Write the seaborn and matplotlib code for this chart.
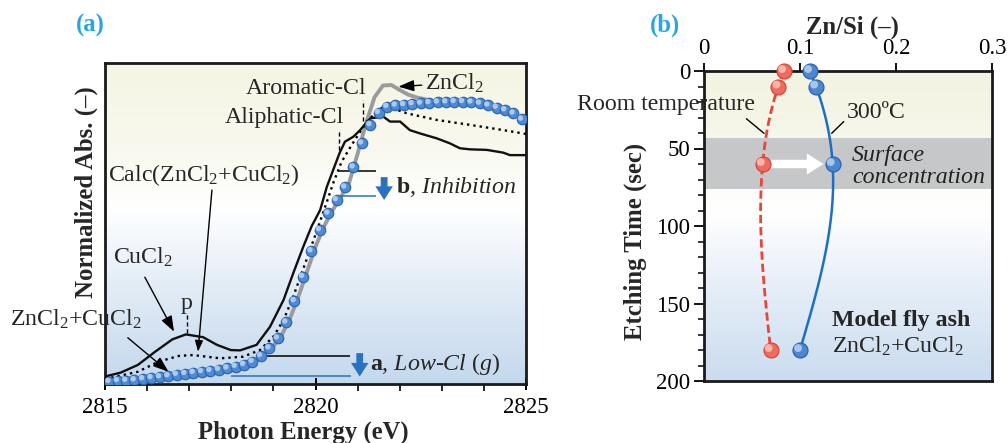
import numpy as np
import pandas as pd
import matplotlib
matplotlib.use("Agg")
import matplotlib.pyplot as plt
from matplotlib import transforms
from matplotlib.colors import LinearSegmentedColormap
from matplotlib.ticker import MultipleLocator
import seaborn as sns

# ---------------- data: panel (a) ----------------
sample_energy = [2815.1, 2815.3, 2815.5, 2815.7, 2815.9, 2816.1, 2816.3, 2816.5, 2816.7, 2816.9,
                 2817.1, 2817.3, 2817.5, 2817.7, 2817.9, 2818.1, 2818.3, 2818.5, 2818.7, 2818.9,
                 2819.1, 2819.3, 2819.5, 2819.7, 2819.9, 2820.1, 2820.3, 2820.5, 2820.7, 2820.9,
                 2821.1, 2821.3, 2821.5, 2821.7, 2821.9, 2822.1, 2822.3, 2822.5, 2822.7, 2822.9,
                 2823.1, 2823.3, 2823.5, 2823.7, 2823.9, 2824.1, 2824.3, 2824.5, 2824.7, 2824.9]
sample_abs = [0.001, 0.004, 0.005, 0.007, 0.011, 0.015, 0.018, 0.022, 0.027, 0.030,
              0.034, 0.037, 0.041, 0.045, 0.050, 0.056, 0.063, 0.074, 0.095, 0.123,
              0.159, 0.217, 0.295, 0.383, 0.476, 0.553, 0.613, 0.662, 0.708, 0.781,
              0.868, 0.935, 0.979, 1.001, 1.006, 1.008, 1.011, 1.013, 1.015, 1.017,
              1.018, 1.019, 1.019, 1.017, 1.013, 1.006, 0.998, 0.989, 0.977, 0.955]

cucl2_energy = [2815.0, 2815.37, 2815.78, 2816.19, 2816.6, 2816.92, 2817.33, 2817.66, 2817.99,
                2818.21, 2818.6, 2818.92, 2819.24, 2819.47, 2819.71, 2819.91, 2820.11, 2820.27,
                2820.42, 2820.57, 2820.7, 2820.9, 2821.06, 2821.23, 2821.31, 2821.61, 2821.77,
                2822.01, 2822.24, 2822.48, 2822.88, 2823.19, 2823.43, 2823.67, 2824.07, 2824.46,
                2824.62, 2825.0]
cucl2_abs = [0.020, 0.034, 0.062, 0.110, 0.155, 0.173, 0.163, 0.135, 0.116,
             0.115, 0.135, 0.201, 0.298, 0.395, 0.492, 0.567, 0.625, 0.710,
             0.771, 0.832, 0.874, 0.892, 0.916, 0.947, 0.959, 0.965, 0.947,
             0.947, 0.916, 0.904, 0.886, 0.868, 0.850, 0.846, 0.844, 0.834,
             0.825, 0.825]

calc_energy = [2815.0, 2815.78, 2816.27, 2816.76, 2817.09, 2817.74, 2818.28, 2818.68, 2819.0,
               2819.24, 2819.47, 2819.67, 2819.87, 2820.05, 2820.23, 2820.42, 2820.62, 2820.86,
               2821.06, 2821.25, 2821.6, 2821.85, 2822.17, 2822.88, 2823.67, 2824.46, 2825.0]
calc_abs = [0.011, 0.037, 0.074, 0.095, 0.098, 0.086, 0.092, 0.116, 0.165,
            0.225, 0.310, 0.395, 0.480, 0.558, 0.637, 0.723, 0.801, 0.862,
            0.910, 0.953, 1.000, 0.994, 0.977, 0.953, 0.935, 0.916, 0.902]

zncl2_energy = [2815.0, 2815.5, 2816.0, 2816.5, 2817.0, 2817.5, 2818.0, 2818.3, 2818.6, 2818.8,
                2819.0, 2819.2, 2819.4, 2819.6, 2819.8, 2820.0, 2820.2, 2820.4, 2820.6, 2820.8,
                2821.0, 2821.2, 2821.4, 2821.6, 2821.8, 2822.0, 2822.2, 2822.4, 2822.7]
zncl2_abs = [-0.005, -0.002, 0.004, 0.011, 0.020, 0.029, 0.040, 0.055, 0.078, 0.101,
             0.130, 0.171, 0.233, 0.313, 0.402, 0.492, 0.565, 0.623, 0.672, 0.725,
             0.830, 0.940, 1.035, 1.078, 1.080, 1.062, 1.045, 1.035, 1.025]

# ---------------- data: panel (b) ----------------
etch_time = [0, 10, 60, 180]
znsi_room = [0.0833, 0.0774, 0.0611, 0.0694]
znsi_300 = [0.1104, 0.1167, 0.1340, 0.1000]
x_ticks_b = [0, 0.1, 0.2, 0.3]
x_ticklabels_b = ["0", "0.1", "0.2", "0.3"]
y_ticks_b = [0, 50, 100, 150, 200]

# ---------------- style ----------------
sns.set_theme(style="ticks")
plt.rcParams["font.family"] = ["Liberation Serif", "DejaVu Serif"]
plt.rcParams["mathtext.fontset"] = "custom"
plt.rcParams["mathtext.rm"] = "Liberation Serif"
plt.rcParams["mathtext.it"] = "Liberation Serif:italic"
plt.rcParams["mathtext.bf"] = "Liberation Serif:bold"
FS = 17.2      # annotation text
TFS = 16.5     # tick labels
LFS = 17.8     # axis labels

fig = plt.figure(figsize=(10.08, 4.43), dpi=100)
ax_a = fig.add_axes([105 / 1008, 1 - 384 / 443, 421 / 1008, 321 / 443])
ax_b = fig.add_axes([704 / 1008, 1 - 381 / 443, 288 / 1008, 310 / 443])


def gradient(ax, stops):
    cmap = LinearSegmentedColormap.from_list("g", stops)
    grad = np.linspace(0, 1, 256).reshape(-1, 1)
    ax.imshow(grad, cmap=cmap, aspect="auto", extent=[0, 1, 0, 1],
              transform=ax.transAxes, zorder=0, interpolation="bicubic")


def spheres(ax, x, y, s, edge, face, hi, clip=True):
    sns.scatterplot(x=x, y=y, ax=ax, s=s, color=face, edgecolor=edge,
                    linewidth=0.9, zorder=6, legend=False, clip_on=clip)
    r = np.sqrt(s)
    off = transforms.offset_copy(ax.transData, fig=ax.figure, x=-0.13 * r, y=0.13 * r, units="points")
    sns.scatterplot(x=x, y=y, ax=ax, s=s * 0.28, color=hi, edgecolor="none",
                    linewidth=0, zorder=7, transform=off, legend=False, clip_on=clip)


def natural_cubic(t, v, tt):
    t = np.asarray(t, float)
    v = np.asarray(v, float)
    n = len(t)
    h = np.diff(t)
    A = np.zeros((n, n))
    r = np.zeros(n)
    A[0, 0] = A[-1, -1] = 1
    for i in range(1, n - 1):
        A[i, i - 1] = h[i - 1]
        A[i, i] = 2 * (h[i - 1] + h[i])
        A[i, i + 1] = h[i]
        r[i] = 3 * ((v[i + 1] - v[i]) / h[i] - (v[i] - v[i - 1]) / h[i - 1])
    c = np.linalg.solve(A, r)
    b = (v[1:] - v[:-1]) / h - h * (2 * c[:-1] + c[1:]) / 3
    d = (c[1:] - c[:-1]) / (3 * h)
    idx = np.clip(np.searchsorted(t, tt, side="right") - 1, 0, n - 2)
    dt = tt - t[idx]
    return v[idx] + b[idx] * dt + c[idx] * dt ** 2 + d[idx] * dt ** 3


# ================= panel (a) =================
ax = ax_a
gradient(ax, [(0.0, "#f5f5e3"), (0.25, "#f8f8ee"), (0.45, "#ffffff"), (0.7, "#e2ecf6"), (1.0, "#c4d8ed")])

sns.lineplot(x=zncl2_energy, y=zncl2_abs, ax=ax, color="#9b9b9b", lw=2.8, sort=False, estimator=None, zorder=3)
sns.lineplot(x=calc_energy, y=calc_abs, ax=ax, color="black", lw=1.7, sort=False, estimator=None,
             zorder=4, linestyle=(0, (1, 1.7)))
sns.lineplot(x=cucl2_energy, y=cucl2_abs, ax=ax, color="#111111", lw=1.7, sort=False, estimator=None, zorder=4)
spheres(ax, sample_energy, sample_abs, 56, "#2c67b0", "#4f8ad3", "#a9c9ef")

ax.set_xlim(2815, 2825)
ax.set_ylim(-0.0073, 1.16)
ax.set_yticks([])
ax.set_xticks([2815, 2820, 2825])
ax.xaxis.set_minor_locator(MultipleLocator(1))
ax.tick_params(axis="x", which="major", direction="inout", length=9, width=1.4, labelsize=TFS, pad=5, colors="black")
ax.tick_params(axis="x", which="minor", direction="out", length=5, width=1.2, colors="black")
ax.set_xlabel("Photon Energy (eV)", fontsize=LFS, fontweight="bold", va="center")
ax.xaxis.set_label_coords(0.47, -0.15)
ax.set_ylabel("Normalized Abs. (–)", fontsize=LFS, fontweight="bold", va="center")
ax.yaxis.set_label_coords(-0.044, 0.598)
for sp in ax.spines.values():
    sp.set_color("#1a1a1a")
    sp.set_linewidth(2)

dash_kw = dict(colors="black", linestyles=(0, (3, 2)), lw=1.0, zorder=5)
ax.text(2821.22, 1.069, "Aromatic-Cl", fontsize=FS, ha="right", va="center")
ax.vlines(2821.12, 0.949, 1.025, **dash_kw)
ax.text(2820.68, 0.96, "Aliphatic-Cl", fontsize=FS, ha="right", va="center")
ax.vlines(2820.56, 0.844, 0.916, **dash_kw)
ax.annotate("ZnCl$_2$", xy=(2821.97, 1.074), xytext=(2822.6, 1.087), fontsize=FS, ha="left", va="center",
            arrowprops=dict(arrowstyle="-|>,head_length=0.55,head_width=0.2", color="black", lw=1.0,
                            shrinkA=0, shrinkB=0))
ax.text(2815.08, 0.753, "Calc(ZnCl$_2$+CuCl$_2$)", fontsize=FS, ha="left", va="center")
ax.annotate("", xy=(2817.21, 0.11), xytext=(2817.54, 0.698),
            arrowprops=dict(arrowstyle="-|>,head_length=0.55,head_width=0.2", color="black", lw=1.0,
                            shrinkA=0, shrinkB=0))
ax.hlines(0.767, 2820.54, 2821.44, colors="black", lw=1.1, zorder=5)
ax.hlines(0.676, 2820.6, 2821.44, colors="#2a72c0", lw=1.1, zorder=5)
ax.annotate("", xy=(2821.63, 0.662), xytext=(2821.63, 0.745),
            arrowprops=dict(arrowstyle="simple,head_length=0.7,head_width=0.9,tail_width=0.35",
                            fc="#2a72c0", ec="none", mutation_scale=14, shrinkA=0, shrinkB=0))
ax.text(2821.91, 0.71, r"$\mathbf{b}$, $\mathit{Inhibition}$", fontsize=FS, ha="left", va="center")

ax.hlines(0.0945, 2818.85, 2820.81, colors="black", lw=1.1, zorder=5)
ax.hlines(0.023, 2818.0, 2820.85, colors="#2a72c0", lw=1.1, zorder=2)
ax.annotate("", xy=(2821.05, 0.02), xytext=(2821.05, 0.105),
            arrowprops=dict(arrowstyle="simple,head_length=0.7,head_width=0.9,tail_width=0.35",
                            fc="#2a72c0", ec="none", mutation_scale=14, shrinkA=0, shrinkB=0))
ax.text(2821.3, 0.064, r"$\mathbf{a}$, $\mathit{Low}$-$\mathit{Cl}$ ($\mathit{g}$)", fontsize=FS, ha="left", va="center")

ax.annotate("CuCl$_2$", xy=(2816.64, 0.183), xytext=(2815.2, 0.453), fontsize=FS, ha="left", va="center",
            arrowprops=dict(arrowstyle="-|>,head_length=0.55,head_width=0.2", color="black", lw=1.0,
                            shrinkA=4, shrinkB=0, relpos=(0.45, 0.0)))
ax.text(2816.94, 0.286, "p", fontsize=FS, ha="center", va="center")
ax.vlines(2816.95, 0.177, 0.25, **dash_kw)
ax.annotate("ZnCl$_2$+CuCl$_2$", xy=(2816.51, 0.037), xytext=(2812.75, 0.228), fontsize=FS, ha="left",
            va="center", annotation_clip=False,
            arrowprops=dict(arrowstyle="-|>,head_length=0.55,head_width=0.2", color="black", lw=1.0,
                            shrinkA=4, shrinkB=0, relpos=(0.83, 0.0)))

fig.text(90 / 1008, 1 - 25 / 443, "(a)", fontsize=LFS, fontweight="bold", color="#27a6df",
         ha="center", va="center")

# ================= panel (b) =================
ax = ax_b
gradient(ax, [(0.0, "#f3f3e1"), (0.2, "#f6f6ea"), (0.32, "#fbfbf6"), (0.45, "#ffffff"),
              (0.7, "#e6eef7"), (1.0, "#cadcef")])
ax.axhspan(43, 76, color="#c6c7c9", zorder=1, lw=0)

tt = np.linspace(0, 180, 200)
room_curve = pd.DataFrame({"t": tt, "v": natural_cubic(etch_time, znsi_room, tt)})
hot_curve = pd.DataFrame({"t": tt, "v": natural_cubic(etch_time, znsi_300, tt)})
sns.lineplot(data=room_curve, x="v", y="t", ax=ax, sort=False, estimator=None, color="#e5473c",
             lw=2.0, linestyle=(0, (3, 1.4)), zorder=4)
sns.lineplot(data=hot_curve, x="v", y="t", ax=ax, sort=False, estimator=None, color="#1f6fc0",
             lw=1.8, zorder=4)
spheres(ax, znsi_room, etch_time, 115, "#d5463b", "#ee6b5f", "#f9b5ac", clip=False)
spheres(ax, znsi_300, etch_time, 115, "#2763ad", "#4d86cf", "#a7c6ee", clip=False)

ax.annotate("", xy=(0.1245, 60), xytext=(0.069, 60),
            arrowprops=dict(arrowstyle="simple,head_length=0.75,head_width=0.95,tail_width=0.38",
                            fc="white", ec="none", mutation_scale=16, shrinkA=0, shrinkB=0), zorder=5)

ax.set_xlim(0, 0.3)
ax.set_ylim(200, 0)
ax.xaxis.tick_top()
ax.xaxis.set_label_position("top")
ax.set_xticks(x_ticks_b)
ax.set_xticklabels(x_ticklabels_b)
ax.set_yticks(y_ticks_b)
ax.yaxis.set_minor_locator(MultipleLocator(10))
ax.tick_params(axis="x", which="major", direction="out", length=6, width=1.3, labelsize=TFS, pad=3,
               top=True, bottom=False, colors="black")
ax.tick_params(axis="y", which="major", direction="out", length=7, width=1.3, labelsize=TFS, pad=3,
               colors="black")
ax.tick_params(axis="y", which="minor", direction="out", length=4, width=1.1, colors="black")
for sp in ax.spines.values():
    sp.set_color("#1a1a1a")
    sp.set_linewidth(2)
ax.set_xlabel("Zn/Si (–)", fontsize=LFS, fontweight="bold", va="center")
ax.xaxis.set_label_coords(0.517, 1.142)
ax.set_ylabel("Etching Time (sec)", fontsize=LFS, fontweight="bold", va="center")
ax.yaxis.set_label_coords(-0.24, 0.45)

ax.annotate("Room temperature", xy=(0.0625, 40.2), xytext=(0.053, 21.9), fontsize=FS, ha="right",
            va="center", annotation_clip=False,
            arrowprops=dict(arrowstyle="-", color="black", lw=1.0, shrinkA=0, shrinkB=0, relpos=(0.93, 0.0)))
ax.annotate("300ºC", xy=(0.133, 40.2), xytext=(0.149, 26.5), fontsize=FS, ha="left", va="center",
            arrowprops=dict(arrowstyle="-", color="black", lw=1.0, shrinkA=0, shrinkB=0, relpos=(0.0, 0.2)))
ax.text(0.154, 54.2, "Surface", fontsize=FS, style="italic", ha="left", va="center", color="#222222")
ax.text(0.154, 69.0, "concentration", fontsize=FS, style="italic", ha="left", va="center", color="#222222")
ax.text(0.1333, 161, "Model fly ash", fontsize=FS, fontweight="bold", ha="left", va="center")
ax.text(0.1333, 177.4, "ZnCl$_2$+CuCl$_2$", fontsize=FS, ha="left", va="center")

fig.text(665 / 1008, 1 - 25 / 443, "(b)", fontsize=LFS, fontweight="bold", color="#27a6df",
         ha="center", va="center")

fig.savefig("out.png", dpi=100)
